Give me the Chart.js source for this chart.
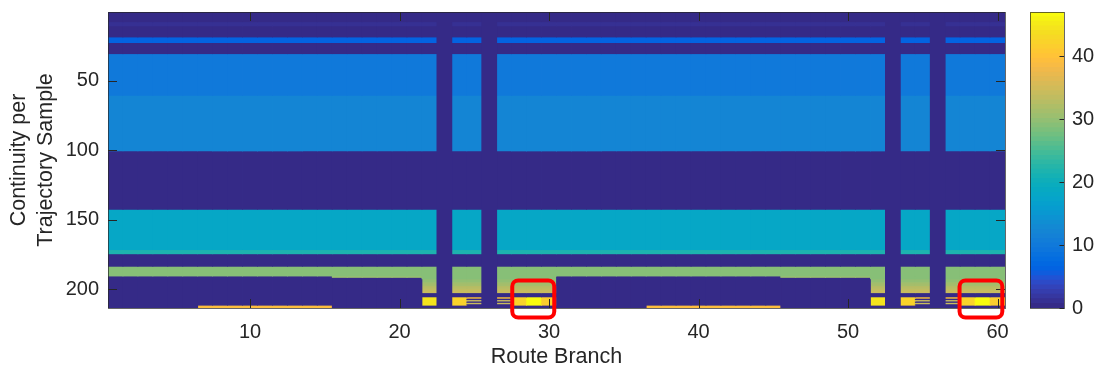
<!DOCTYPE html>
<html>
<head>
<meta charset="utf-8">
<script src="https://cdn.jsdelivr.net/npm/chart.js@4.4.1/dist/chart.umd.min.js"></script>
<style>
  html, body { margin: 0; padding: 0; background: #ffffff; }
  #wrap { position: relative; width: 1098px; height: 376px; overflow: hidden; }
  #heat { position: absolute; left: 0; top: 0; }
  #cbar { position: absolute; left: 1020px; top: 0; }
</style>
</head>
<body>
<div id="wrap">
  <canvas id="heat" width="1098" height="376"></canvas>
  <canvas id="cbar" width="78" height="376"></canvas>
</div>
<script>
// ---- data -------------------------------------------------------------
const branches = [
  1, 2, 3, 4, 5, 6, 7, 8, 9, 10, 11, 12, 13, 14, 15, 16, 17, 18, 19, 20,
  21, 22, 23, 24, 25, 26, 27, 28, 29, 30, 31, 32, 33, 34, 35, 36, 37, 38, 39, 40,
  41, 42, 43, 44, 45, 46, 47, 48, 49, 50, 51, 52, 53, 54, 55, 56, 57, 58, 59, 60
];
const sampleCount = 213;
const colorLimits = [0, 47];

const xTickValues = [10, 20, 30, 40, 50, 60];
const yTickValues = [50, 100, 150, 200];
const colorbarTickValues = [0, 10, 20, 30, 40];

// Rows common to every active branch: [firstRow, lastRow, value]
const sharedRuns = [
  [1, 7, 0], [8, 10, 1], [11, 18, 0], [19, 22, 6], [23, 30, 0],
  [31, 60, 10], [61, 100, 12], [101, 142, 0], [143, 171, 18],
  [172, 174, 21.5], [175, 183, 0], [184, 190, 29]
];
// Rows 191-202 of the transition branches
const rampValues = [29, 29, 29.5, 30, 30.5, 31, 31.5, 32.5, 33, 33.5, 34, 34.5];
// Rows 206-211 of the transition branches, per branch kind
const bottomRows = {
  Y: [44.5, 44.5, 44.5, 44.5, 44.5, 44.5],
  G: [42.5, 42.5, 42.5, 42.5, 42.5, 42.5],
  S: [40, 0, 34, 0, 34, 0],
  H: [42.5, 42.5, 42.5, 42.5, 42.5, 42.5],
  P: [47, 47, 47, 47, 47, 47],
  T: [41.5, 41.5, 41.5, 41.5, 41.5, 41.5]
};
// Lower section of the remaining kinds
const tailRuns = {
  A: [[191, 213, 0]],
  B: [[191, 211, 0], [212, 213, 39.5]],
  C: [[191, 191, 30.5], [192, 213, 0]]
};
const columnKinds = [
  'A','A','A','A','A','A','B','B','B','B','B','B','B','B','B',
  'C','C','C','C','C','C','Y','Z','G','S','Z','S','H','P','T',
  'A','A','A','A','A','A','B','B','B','B','B','B','B','B','B',
  'C','C','C','C','C','C','Y','Z','G','S','Z','S','H','P','T'
];

// Highlight frames, in branch / sample units
const highlightBoxes = [
  { x0: 27.54, x1: 30.35, y0: 193.7, y1: 220.4 },
  { x0: 57.46, x1: 60.32, y0: 193.7, y1: 220.4 }
];

// ---- colour map (parula, 64 levels) -----------------------------------
const parula = [
  [0.2081,0.1663,0.5292],[0.2116,0.1898,0.5777],[0.2123,0.2138,0.6270],[0.2081,0.2386,0.6771],
  [0.1959,0.2645,0.7279],[0.1707,0.2919,0.7792],[0.1253,0.3242,0.8303],[0.0591,0.3598,0.8683],
  [0.0117,0.3875,0.8820],[0.0060,0.4086,0.8828],[0.0165,0.4266,0.8786],[0.0329,0.4430,0.8720],
  [0.0498,0.4586,0.8641],[0.0629,0.4737,0.8554],[0.0723,0.4887,0.8467],[0.0779,0.5040,0.8384],
  [0.0793,0.5200,0.8312],[0.0749,0.5375,0.8263],[0.0641,0.5570,0.8240],[0.0488,0.5772,0.8228],
  [0.0343,0.5966,0.8199],[0.0265,0.6137,0.8135],[0.0239,0.6287,0.8038],[0.0231,0.6418,0.7913],
  [0.0228,0.6535,0.7768],[0.0267,0.6642,0.7607],[0.0384,0.6743,0.7436],[0.0590,0.6838,0.7254],
  [0.0843,0.6928,0.7062],[0.1133,0.7015,0.6859],[0.1453,0.7098,0.6646],[0.1801,0.7177,0.6424],
  [0.2178,0.7250,0.6193],[0.2586,0.7317,0.5954],[0.3022,0.7376,0.5712],[0.3482,0.7424,0.5473],
  [0.3953,0.7459,0.5244],[0.4420,0.7481,0.5033],[0.4871,0.7491,0.4840],[0.5300,0.7491,0.4661],
  [0.5709,0.7485,0.4494],[0.6099,0.7473,0.4337],[0.6473,0.7456,0.4188],[0.6834,0.7435,0.4044],
  [0.7184,0.7411,0.3905],[0.7525,0.7384,0.3768],[0.7858,0.7356,0.3633],[0.8185,0.7327,0.3498],
  [0.8507,0.7299,0.3360],[0.8824,0.7274,0.3217],[0.9139,0.7258,0.3063],[0.9450,0.7261,0.2886],
  [0.9739,0.7314,0.2666],[0.9938,0.7455,0.2403],[0.9990,0.7653,0.2164],[0.9955,0.7861,0.1967],
  [0.9880,0.8066,0.1794],[0.9789,0.8271,0.1633],[0.9697,0.8481,0.1475],[0.9626,0.8705,0.1309],
  [0.9589,0.8949,0.1132],[0.9598,0.9218,0.0948],[0.9661,0.9514,0.0755],[0.9763,0.9831,0.0538]
];
const toCss = c => `rgb(${Math.round(c[0]*255)},${Math.round(c[1]*255)},${Math.round(c[2]*255)})`;
function colorFor(v) {
  const t = (v - colorLimits[0]) / (colorLimits[1] - colorLimits[0]);
  const idx = Math.max(0, Math.min(parula.length - 1, Math.floor(t * parula.length)));
  return toCss(parula[idx]);
}

// ---- per-branch runs ----------------------------------------------------
function runsFor(kind) {
  if (kind === 'Z') return [[1, sampleCount, 0]];
  if (tailRuns[kind]) return sharedRuns.concat(tailRuns[kind]);
  const runs = sharedRuns.slice();
  rampValues.forEach((v, i) => runs.push([191 + i, 191 + i, v]));
  runs.push([203, 205, 0]);
  bottomRows[kind].forEach((v, i) => runs.push([206 + i, 206 + i, v]));
  runs.push([212, 213, 0]);
  return runs;
}
const columnRuns = columnKinds.map(runsFor);
const maxRuns = Math.max(...columnRuns.map(r => r.length));

const heatDatasets = [];
for (let k = 0; k < maxRuns; k++) {
  heatDatasets.push({
    data: columnRuns.map(r => r[k] ? [r[k][0] - 0.5, r[k][1] + 0.5] : null),
    backgroundColor: columnRuns.map(r => r[k] ? colorFor(r[k][2]) : 'rgba(0,0,0,0)'),
    borderWidth: 0,
    inflateAmount: 0.4,
    grouped: false,
    categoryPercentage: 1,
    barPercentage: 1
  });
}

// ---- shared styles -------------------------------------------------------
const FONT = "'Liberation Sans', Arial, Helvetica, sans-serif";
const TEXT = '#262626';
const FRAME = 'rgba(38,38,38,0.7)';
const TICK_LEN = 9;

// keep the plot box exactly where the layout padding puts it
const noEdgePadding = s => { s.paddingTop = 0; s.paddingBottom = 0; };

const axesFrame = {
  id: 'axesFrame',
  afterDraw(chart) {
    const { ctx, chartArea: a, scales: { x, y } } = chart;
    ctx.save();
    ctx.strokeStyle = TEXT;
    ctx.lineWidth = 1;
    ctx.beginPath();
    xTickValues.forEach(v => {
      const px = Math.round(x.getPixelForValue(branches.indexOf(v))) + 0.5;
      ctx.moveTo(px, a.bottom); ctx.lineTo(px, a.bottom - TICK_LEN);
      ctx.moveTo(px, a.top); ctx.lineTo(px, a.top + TICK_LEN);
    });
    yTickValues.forEach(v => {
      const py = Math.round(y.getPixelForValue(v)) + 0.5;
      ctx.moveTo(a.left, py); ctx.lineTo(a.left + TICK_LEN, py);
      ctx.moveTo(a.right, py); ctx.lineTo(a.right - TICK_LEN, py);
    });
    ctx.stroke();
    ctx.strokeStyle = FRAME;
    ctx.strokeRect(Math.round(a.left) + 0.5, Math.round(a.top) + 0.5,
                   Math.round(a.right - a.left), Math.round(a.bottom - a.top));

    // red highlight frames
    ctx.strokeStyle = '#ff0000';
    ctx.lineWidth = 4;
    highlightBoxes.forEach(b => {
      const x0 = x.getPixelForValue(b.x0 - 1), x1 = x.getPixelForValue(b.x1 - 1);
      const y0 = y.getPixelForValue(b.y0), y1 = y.getPixelForValue(b.y1);
      ctx.beginPath();
      ctx.roundRect(x0, y0, x1 - x0, y1 - y0, 6);
      ctx.stroke();
    });
    ctx.restore();
  }
};

new Chart(document.getElementById('heat'), {
  type: 'bar',
  data: { labels: branches.map(String), datasets: heatDatasets },
  options: {
    responsive: false,
    animation: false,
    devicePixelRatio: 1,
    layout: { padding: { left: 0, right: 93, top: 12, bottom: 0 } },
    plugins: { legend: { display: false }, tooltip: { enabled: false } },
    scales: {
      x: {
        type: 'category',
        offset: true,
        grid: { display: false, drawTicks: false },
        border: { display: false },
        ticks: {
          autoSkip: false, minRotation: 0, maxRotation: 0, padding: 12,
          color: TEXT, font: { family: FONT, size: 20 },
          callback: (val, i) => xTickValues.includes(branches[i]) ? String(branches[i]) : ''
        },
        title: {
          display: true, text: 'Route Branch', color: TEXT,
          font: { family: FONT, size: 21.5, lineHeight: 1.2 },
          padding: { top: 0, bottom: 6 }
        },
        afterFit: s => { s.height = 68; s.paddingLeft = 0; s.paddingRight = 0; }
      },
      y: {
        type: 'linear',
        reverse: true,
        min: 0.5,
        max: sampleCount + 0.5,
        grid: { display: false, drawTicks: false },
        border: { display: false },
        afterBuildTicks: s => { s.ticks = yTickValues.map(v => ({ value: v })); },
        ticks: { padding: 9, color: TEXT, font: { family: FONT, size: 20 } },
        title: {
          display: true, text: ['Continuity per', 'Trajectory Sample'], color: TEXT,
          font: { family: FONT, size: 21.5, lineHeight: 1.25 },
          padding: { top: 6, bottom: 0 }
        },
        afterFit: s => { s.width = 108; noEdgePadding(s); }
      }
    }
  },
  plugins: [axesFrame]
});

// ---- colour bar ---------------------------------------------------------
const levelStep = (colorLimits[1] - colorLimits[0]) / parula.length;
const colorbarDatasets = parula.map((c, i) => ({
  data: [[colorLimits[0] + i * levelStep, colorLimits[0] + (i + 1) * levelStep]],
  backgroundColor: toCss(c),
  borderWidth: 0,
  inflateAmount: 0.4,
  grouped: false,
  categoryPercentage: 1,
  barPercentage: 1
}));

const colorbarFrame = {
  id: 'colorbarFrame',
  afterDraw(chart) {
    const { ctx, chartArea: a, scales: { y } } = chart;
    ctx.save();
    ctx.strokeStyle = TEXT;
    ctx.lineWidth = 1;
    ctx.beginPath();
    colorbarTickValues.forEach(v => {
      const py = Math.round(y.getPixelForValue(v)) + 0.5;
      ctx.moveTo(a.right, py); ctx.lineTo(a.right - 4.5, py);
    });
    ctx.stroke();
    ctx.strokeStyle = FRAME;
    ctx.strokeRect(Math.round(a.left) + 0.5, Math.round(a.top) + 0.5,
                   Math.round(a.right - a.left), Math.round(a.bottom - a.top));
    ctx.restore();
  }
};

new Chart(document.getElementById('cbar'), {
  type: 'bar',
  data: { labels: [''], datasets: colorbarDatasets },
  options: {
    responsive: false,
    animation: false,
    devicePixelRatio: 1,
    layout: { padding: { left: 10, right: 0, top: 12, bottom: 68 } },
    plugins: { legend: { display: false }, tooltip: { enabled: false } },
    scales: {
      x: { display: false },
      y: {
        position: 'right',
        min: colorLimits[0],
        max: colorLimits[1],
        grid: { display: false, drawTicks: false },
        border: { display: false },
        afterBuildTicks: s => { s.ticks = colorbarTickValues.map(v => ({ value: v })); },
        ticks: { padding: 8, color: TEXT, font: { family: FONT, size: 20 } },
        afterFit: s => { s.width = 34; noEdgePadding(s); }
      }
    }
  },
  plugins: [colorbarFrame]
});
</script>
</body>
</html>
